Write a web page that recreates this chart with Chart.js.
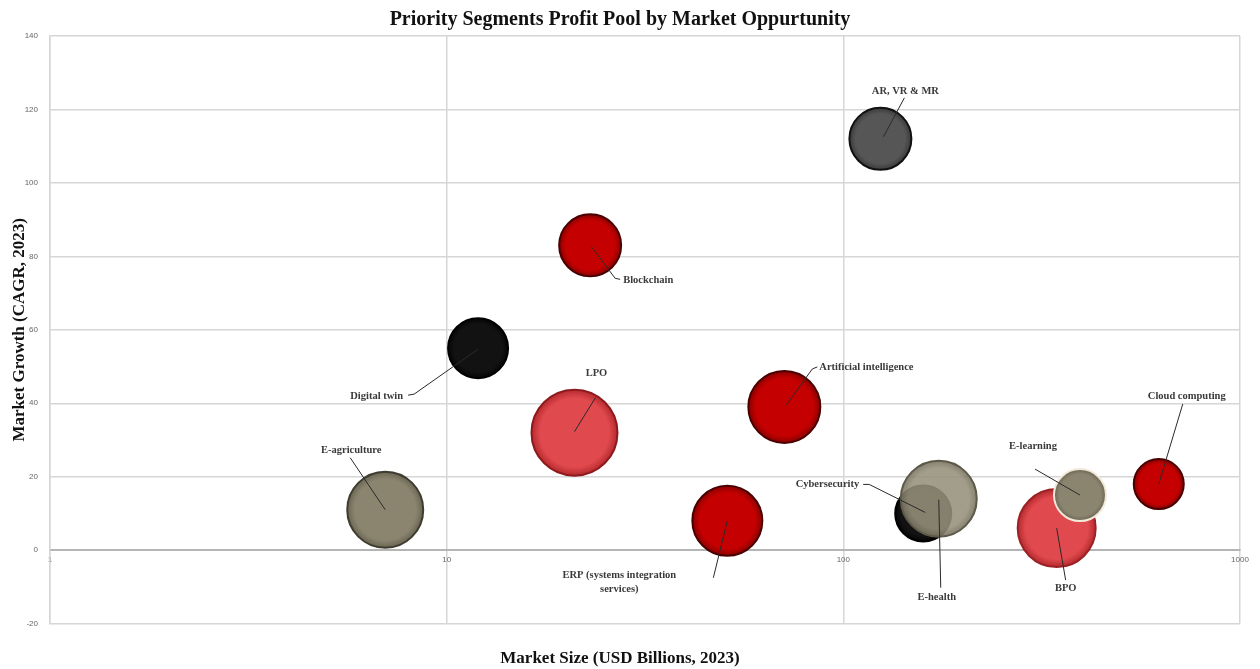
<!DOCTYPE html>
<html>
<head>
<meta charset="utf-8">
<script src="https://cdn.jsdelivr.net/npm/chart.js@4/dist/chart.umd.min.js"></script>
<style>
  html, body { margin: 0; padding: 0; background: #fff; }
  #wrap { width: 1260px; height: 669px; }
</style>
</head>
<body>
<div id="wrap"><canvas id="chart"></canvas></div>
<script>
// segment data
const segments = ['E-agriculture', 'Digital twin', 'LPO', 'Blockchain', 'ERP (systems integration services)',
  'Artificial intelligence', 'AR, VR & MR', 'Cybersecurity', 'E-health', 'BPO', 'E-learning', 'Cloud computing'];
const marketSize = [7, 12, 21, 23, 51, 71, 124, 159, 174, 345, 395, 624];      // USD bn, 2023
const marketGrowth = [11, 55, 32, 83, 8, 39, 112, 10, 14, 6, 15, 18];          // CAGR %
const bubbleSize = [38, 30, 43, 31, 35, 36, 31, 28, 38, 39, 26, 25];           // profit pool (bubble radius)
const xTicks = [1, 10, 100, 1000];
const yMin = -20, yMax = 140, yStep = 20;

// colours per segment: [centre, rim]
const RED = ['#c40000', '#8a0000'], LIGHT_RED = ['#e0494e', '#b52a2e'], TAN = ['#8b8570', '#6a6553'];
const BLACK = ['#121212', '#050505'], GREY = ['#565656', '#3a3a3a'], TAN_LIGHT = ['rgba(150,144,122,0.88)', 'rgba(120,114,96,0.9)'];
const fills = [TAN, BLACK, LIGHT_RED, RED, RED, RED, GREY, BLACK, TAN_LIGHT, LIGHT_RED, TAN, RED];
const borders = ['#3f3c30', '#000', '#8e1a1d', '#4a0000', '#4a0000', '#4a0000', '#111', '#000',
  '#5e5a4a', '#9a2226', '#f2e9da', '#4a0000'];

// label placement relative to bubble centre (pixels)
const labelLayout = [
  {lines: ['E-agriculture'], dx: -34, dy: -59, align: 'center', path: [[-35, -52], [0, 0]]},
  {lines: ['Digital twin'], dx: -75, dy: 48, align: 'right', path: [[-70, 47], [-64, 46], [0, 1]]},
  {lines: ['LPO'], dx: 22, dy: -59, align: 'center', path: [[21, -35], [0, -1]]},
  {lines: ['Blockchain'], dx: 33, dy: 35, align: 'left', path: [[30, 34], [25, 33], [1, 1]]},
  {lines: ['ERP (systems integration', 'services)'], dx: -108, dy: 55, align: 'center', path: [[-14, 57], [0, 0]]},
  {lines: ['Artificial intelligence'], dx: 35, dy: -40, align: 'left', path: [[33, -40], [28, -38], [2, -2]]},
  {lines: ['AR, VR & MR'], dx: 25, dy: -48, align: 'center', path: [[24, -41], [3, -2]]},
  {lines: ['Cybersecurity'], dx: -64, dy: -29, align: 'right', path: [[-60, -29], [-54, -29], [2, -1]]},
  {lines: ['E-health'], dx: -2, dy: 99, align: 'center', path: [[2, 89], [0, 1]]},
  {lines: ['BPO'], dx: 9, dy: 60, align: 'center', path: [[9, 52], [0, 0]]},
  {lines: ['E-learning'], dx: -47, dy: -49, align: 'center', path: [[-45, -26], [0, 0]]},
  {lines: ['Cloud computing'], dx: 28, dy: -88, align: 'center', path: [[24, -80], [0, 0]]}
];

const points = segments.map((s, i) => ({x: marketSize[i], y: marketGrowth[i], r: bubbleSize[i]}));

// radial fill, flat in the middle and darker toward the rim
function bubbleFill(c) {
  const col = fills[c.dataIndex];
  if (c.type !== 'data' || !c.chart.chartArea) return col[0];
  const xs = c.chart.scales.x, ys = c.chart.scales.y;
  const px = xs.getPixelForValue(c.raw.x), py = ys.getPixelForValue(c.raw.y);
  const g = c.chart.ctx.createRadialGradient(px, py, 0, px, py, c.raw.r);
  g.addColorStop(0, col[0]);
  g.addColorStop(0.8, col[0]);
  g.addColorStop(1, col[1]);
  return g;
}

// draws the callout text and leader lines
const calloutPlugin = {
  id: 'callouts',
  afterDatasetsDraw(chart) {
    const ctx = chart.ctx;
    const meta = chart.getDatasetMeta(0);
    ctx.save();
    ctx.strokeStyle = '#2a2a2a';
    ctx.lineWidth = 1;
    ctx.fillStyle = '#3a3a3a';
    ctx.font = 'bold 10.5px "Liberation Serif", serif';
    ctx.textBaseline = 'middle';
    meta.data.forEach((el, i) => {
      const lay = labelLayout[i];
      const cx = el.x, cy = el.y;
      ctx.beginPath();
      lay.path.forEach((p, k) => {
        if (k === 0) ctx.moveTo(cx + p[0], cy + p[1]);
        else ctx.lineTo(cx + p[0], cy + p[1]);
      });
      ctx.stroke();
      ctx.textAlign = lay.align;
      lay.lines.forEach((t, k) => ctx.fillText(t, cx + lay.dx, cy + lay.dy + k * 14));
    });
    ctx.restore();
  }
};

new Chart(document.getElementById('chart'), {
  type: 'bubble',
  data: {
    labels: segments,
    datasets: [{
      data: points,
      backgroundColor: bubbleFill,
      borderColor: borders,
      borderWidth: 2,
      hoverRadius: 0
    }]
  },
  options: {
    responsive: true,
    maintainAspectRatio: false,
    animation: false,
    layout: {autoPadding: false, padding: {left: 0, right: 20, top: 0, bottom: 0}},
    plugins: {
      legend: {display: false},
      tooltip: {enabled: false},
      title: {
        display: true,
        text: 'Priority Segments Profit Pool by Market Oppurtunity',
        color: '#111',
        font: {family: '"Liberation Serif", serif', size: 20, weight: 'bold'},
        padding: {top: 8, bottom: 4}
      },
      subtitle: {
        display: true,
        position: 'bottom',
        text: 'Market Size (USD Billions, 2023)',
        color: '#111',
        font: {family: '"Liberation Serif", serif', size: 17, weight: 'bold'},
        padding: {top: 25, bottom: 0}
      }
    },
    scales: {
      x: {
        type: 'logarithmic',
        position: {y: 0},
        min: 1,
        max: 1000,
        afterBuildTicks: axis => { axis.ticks = xTicks.map(v => ({value: v})); },
        ticks: {
          color: '#666',
          font: {family: '"Liberation Sans", sans-serif', size: 8},
          padding: 5,
          maxRotation: 0,
          callback: v => String(v)
        },
        grid: {color: '#d6d6d6', lineWidth: 1.5, drawTicks: false},
        border: {color: '#b5b5b5', width: 2}
      },
      y: {
        min: yMin,
        max: yMax,
        afterFit: axis => { axis.width = 50; },
        ticks: {
          stepSize: yStep,
          color: '#666',
          font: {family: '"Liberation Sans", sans-serif', size: 8},
          padding: 12
        },
        grid: {color: '#d6d6d6', lineWidth: 1.5, drawTicks: false},
        border: {color: '#d6d6d6', width: 1.5},
        title: {
          display: true,
          text: 'Market Growth (CAGR, 2023)',
          color: '#111',
          font: {family: '"Liberation Serif", serif', size: 17, weight: 'bold'},
          padding: {top: 9, bottom: 0}
        }
      }
    }
  },
  plugins: [calloutPlugin]
});
</script>
</body>
</html>
